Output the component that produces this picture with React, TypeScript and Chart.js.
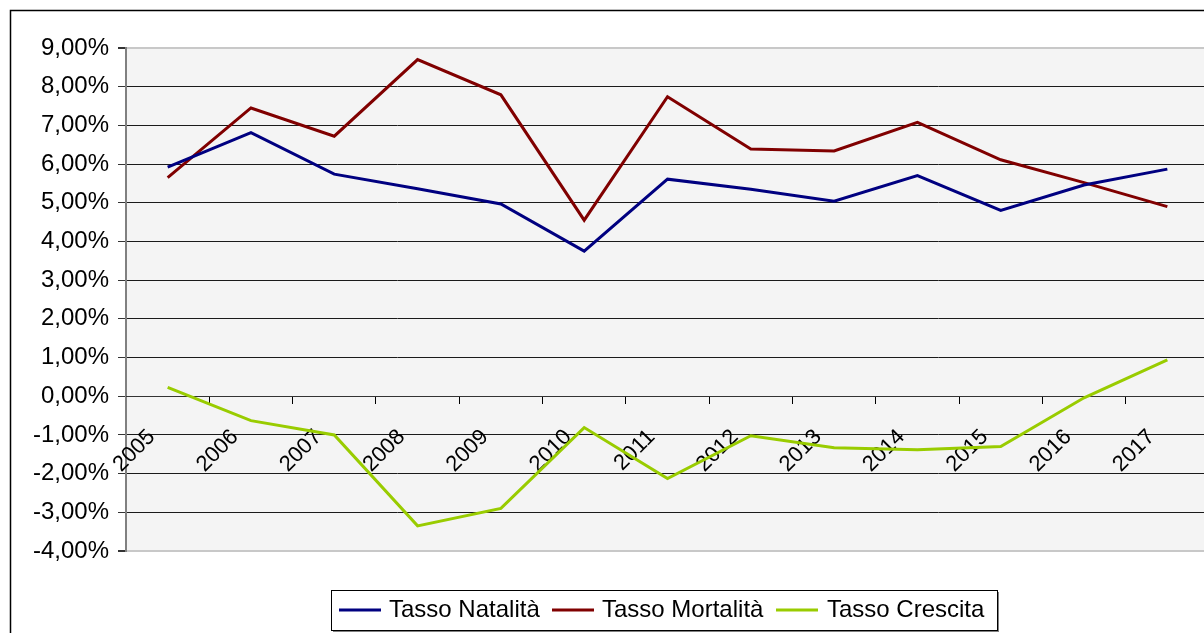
import React, { useEffect, useRef } from "react";
import { Chart, registerables } from "chart.js";

Chart.register(...registerables);

const years = ["2005", "2006", "2007", "2008", "2009", "2010", "2011", "2012", "2013", "2014", "2015", "2016", "2017"];
const natalita = [5.92, 6.81, 5.74, 5.36, 4.97, 3.75, 5.61, 5.35, 5.04, 5.7, 4.8, 5.46, 5.87];
const mortalita = [5.65, 7.45, 6.72, 8.7, 7.79, 4.55, 7.74, 6.39, 6.34, 7.08, 6.11, 5.52, 4.9];
const crescita = [0.23, -0.63, -1.0, -3.35, -2.9, -0.81, -2.13, -1.02, -1.33, -1.38, -1.3, -0.04, 0.94];
const seriesNames = ["Tasso Natalità", "Tasso Mortalità", "Tasso Crescita"];
const seriesColors = ["#000080", "#800000", "#99cc00"];
const yMin = -4;
const yMax = 9;

const FONT = "'Liberation Sans', Arial, sans-serif";

const frameAndBackground = {
  id: "frameAndBackground",
  beforeDraw(chart: any) {
    const { ctx, chartArea } = chart;
    ctx.save();
    ctx.fillStyle = "#ffffff";
    ctx.fillRect(0, 0, chart.width, chart.height);
    ctx.fillStyle = "#f4f4f4";
    ctx.fillRect(chartArea.left, chartArea.top, chartArea.right - chartArea.left, chartArea.bottom - chartArea.top);
    ctx.strokeStyle = "#000000";
    ctx.lineWidth = 1.5;
    ctx.strokeRect(10.5, 10.5, chart.width + 50, chart.height + 50);
    ctx.restore();
  },
};

// legend layout (pixel placement of the boxed legend below the plot)
const legendLeft = 331;
const legendTop = 590;
const legendHeight = 40;
const legendRight = 997;
const legendLineStarts = [339, 552, 776];
const legendTextStarts = [389, 602, 827];

const boxedLegend = {
  id: "boxedLegend",
  afterDraw(chart: any) {
    const { ctx } = chart;
    ctx.save();
    ctx.font = `24px ${FONT}`;
    ctx.textBaseline = "middle";
    ctx.textAlign = "left";
    const cy = legendTop + legendHeight / 2;
    chart.data.datasets.forEach((ds: any, i: number) => {
      const x = legendLineStarts[i];
      ctx.strokeStyle = ds.borderColor;
      ctx.lineWidth = 3;
      ctx.beginPath();
      ctx.moveTo(x, cy);
      ctx.lineTo(x + 42, cy);
      ctx.stroke();
      ctx.fillStyle = "#000000";
      ctx.fillText(ds.label, legendTextStarts[i], cy);
    });
    ctx.strokeStyle = "#808080";
    ctx.lineWidth = 2;
    ctx.beginPath();
    ctx.moveTo(legendLeft + 2, legendTop + legendHeight + 1);
    ctx.lineTo(legendRight + 1, legendTop + legendHeight + 1);
    ctx.lineTo(legendRight + 1, legendTop + 2);
    ctx.stroke();
    ctx.strokeStyle = "#000000";
    ctx.lineWidth = 1;
    ctx.strokeRect(legendLeft + 0.5, legendTop + 0.5, legendRight - legendLeft, legendHeight);
    ctx.restore();
  },
};

export default function App() {
  const ref = useRef<HTMLCanvasElement | null>(null);

  useEffect(() => {
    if (!ref.current) return;
    const values = [natalita, mortalita, crescita];
    const chart = new Chart(ref.current, {
      type: "line",
      data: {
        labels: years,
        datasets: seriesNames.map((name, i) => ({
          label: name,
          data: values[i],
          borderColor: seriesColors[i],
          backgroundColor: seriesColors[i],
          borderWidth: 3,
          pointRadius: 0,
          tension: 0,
          fill: false,
        })),
      },
      options: {
        responsive: false,
        animation: false,
        events: [],
        layout: { padding: { top: 48, right: 21, bottom: 82, left: 0 } },
        plugins: {
          legend: { display: false },
          tooltip: { enabled: false },
          title: { display: false },
        },
        scales: {
          y: {
            min: yMin,
            max: yMax,
            afterFit: (s: any) => {
              s.width = 126;
            },
            ticks: {
              stepSize: 1,
              padding: 9,
              color: "#000000",
              font: { family: FONT, size: 24 },
              callback: (v: any) => Number(v).toFixed(2).replace(".", ",") + "%",
            },
            grid: {
              color: (c: any) => (c.tick && (c.tick.value === yMax || c.tick.value === yMin) ? "#c8c8c8" : "#1a1a1a"),
              lineWidth: (c: any) => (c.tick && (c.tick.value === yMax || c.tick.value === yMin) ? 2 : 1),
              tickColor: "#333333",
              tickLength: 8,
              drawTicks: true,
            },
            border: { color: "#808080", width: 2 },
          },
          x: {
            position: { y: 0 } as any,
            offset: true,
            ticks: {
              autoSkip: false,
              minRotation: 45,
              maxRotation: 45,
              padding: 21,
              labelOffset: -16,
              color: "#000000",
              font: { family: FONT, size: 22 },
            },
            grid: {
              offset: true,
              drawOnChartArea: false,
              drawTicks: true,
              tickLength: 7,
              tickColor: "#000000",
            },
            border: { color: "#333333", width: 1 },
          },
        },
      },
      plugins: [frameAndBackground, boxedLegend],
    });
    return () => chart.destroy();
  }, []);

  return (
    <div style={{ position: "absolute", left: 0, top: 0, width: 1204, height: 633, overflow: "hidden", background: "#fff" }}>
      <canvas ref={ref} width={1230} height={633} style={{ display: "block" }} />
    </div>
  );
}
